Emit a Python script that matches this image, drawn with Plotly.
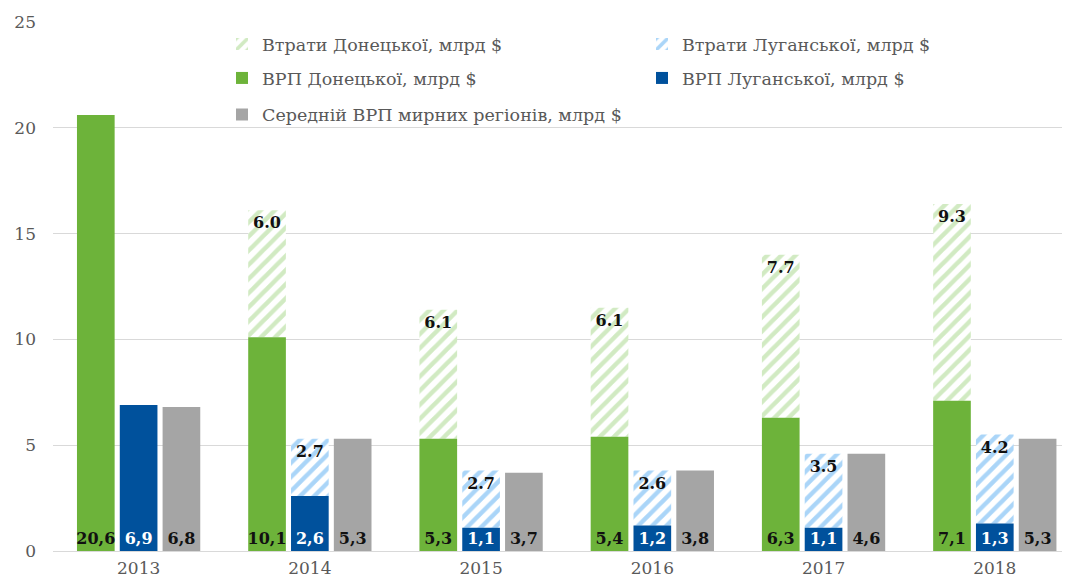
import plotly.graph_objects as go

years = ["2013", "2014", "2015", "2016", "2017", "2018"]
gdp_donetsk = [20.6, 10.1, 5.3, 5.4, 6.3, 7.1]
loss_donetsk = [None, 6.0, 6.1, 6.1, 7.7, 9.3]
gdp_luhansk = [6.9, 2.6, 1.1, 1.2, 1.1, 1.3]
loss_luhansk = [None, 2.7, 2.7, 2.6, 3.5, 4.2]
gdp_peaceful = [6.8, 5.3, 3.7, 3.8, 4.6, 5.3]

names = {
    "loss_d": "Втрати Донецької, млрд $",
    "loss_l": "Втрати Луганської, млрд $",
    "gdp_d": "ВРП Донецької, млрд $",
    "gdp_l": "ВРП Луганської, млрд $",
    "avg": "Середній ВРП мирних регіонів, млрд $",
}

SERIF = "DejaVu Serif"
GREEN = "#6DB33A"
GREEN_H = "#A3D686"
BLUE = "#00519C"
BLUE_H = "#55ACF2"
GRAY = "#A5A5A5"


def comma(v):
    return "" if v is None else f"{v:.1f}".replace(".", ",")


def dot(v):
    return "" if v is None else f"{v:.1f}"


lbl_font = dict(family=SERIF, size=16, color="#111111", weight="bold")
common_txt = dict(textposition="inside", textangle=0, constraintext="none", cliponaxis=False)

fig = go.Figure()

fig.add_bar(x=years, y=loss_donetsk, base=gdp_donetsk, offsetgroup="d", name=names["loss_d"],
            marker=dict(color="white", pattern=dict(shape="/", fgcolor=GREEN_H, bgcolor="white", size=10, solidity=0.45),
                        line=dict(width=0)),
            text=[dot(v) for v in loss_donetsk], insidetextanchor="end",
            textfont=lbl_font, legend="legend", **common_txt)
fig.add_bar(x=years, y=loss_luhansk, base=gdp_luhansk, offsetgroup="l", name=names["loss_l"],
            marker=dict(color="white", pattern=dict(shape="/", fgcolor=BLUE_H, bgcolor="white", size=10, solidity=0.45),
                        line=dict(width=0)),
            text=[dot(v) for v in loss_luhansk], insidetextanchor="end",
            textfont=lbl_font, legend="legend", **common_txt)
fig.add_bar(x=years, y=gdp_donetsk, offsetgroup="d", name=names["gdp_d"],
            marker=dict(color=GREEN, line=dict(width=0)),
            text=[comma(v) for v in gdp_donetsk], insidetextanchor="start",
            textfont=lbl_font, legend="legend2", **common_txt)
fig.add_bar(x=years, y=gdp_luhansk, offsetgroup="l", name=names["gdp_l"],
            marker=dict(color=BLUE, line=dict(width=0)),
            text=[comma(v) for v in gdp_luhansk], insidetextanchor="start",
            textfont=dict(family=SERIF, size=16, color="white", weight="bold"), legend="legend2", **common_txt)
fig.add_bar(x=years, y=gdp_peaceful, offsetgroup="a", name=names["avg"],
            marker=dict(color=GRAY, line=dict(width=0)),
            text=[comma(v) for v in gdp_peaceful], insidetextanchor="start",
            textfont=lbl_font, legend="legend3", **common_txt)

leg_common = dict(orientation="h", x=0.167, xanchor="left", yanchor="middle",
                  font=dict(family=SERIF, size=17.5, color="#595959"),
                  bgcolor="rgba(255,255,255,0)", entrywidth=375, entrywidthmode="pixels",
                  traceorder="normal")

# The page adds an 8px body margin, so the figure is sized 8px smaller.
fig.update_layout(
    width=1062, height=574,
    margin=dict(l=45, r=5, t=14, b=31),
    paper_bgcolor="white", plot_bgcolor="white",
    barmode="group", bargap=0.25, bargroupgap=0.12,
    legend=dict(leg_common, y=0.958),
    legend2=dict(leg_common, y=0.894),
    legend3=dict(leg_common, y=0.825),
    xaxis=dict(range=[-0.5, 5.41], showgrid=False, showline=True, linecolor="#D9D9D9", linewidth=1,
               tickfont=dict(family=SERIF, size=17, color="#595959"), ticks="", ticklabelstandoff=2,
               automargin=False),
    yaxis=dict(range=[0, 25], dtick=5, showgrid=True, gridcolor="#D9D9D9", gridwidth=1, zeroline=False,
               tickfont=dict(family=SERIF, size=17, color="#595959"), ticks="", ticklabelstandoff=16,
               automargin=False),
    font=dict(family=SERIF),
)

fig.write_html("out.html")
